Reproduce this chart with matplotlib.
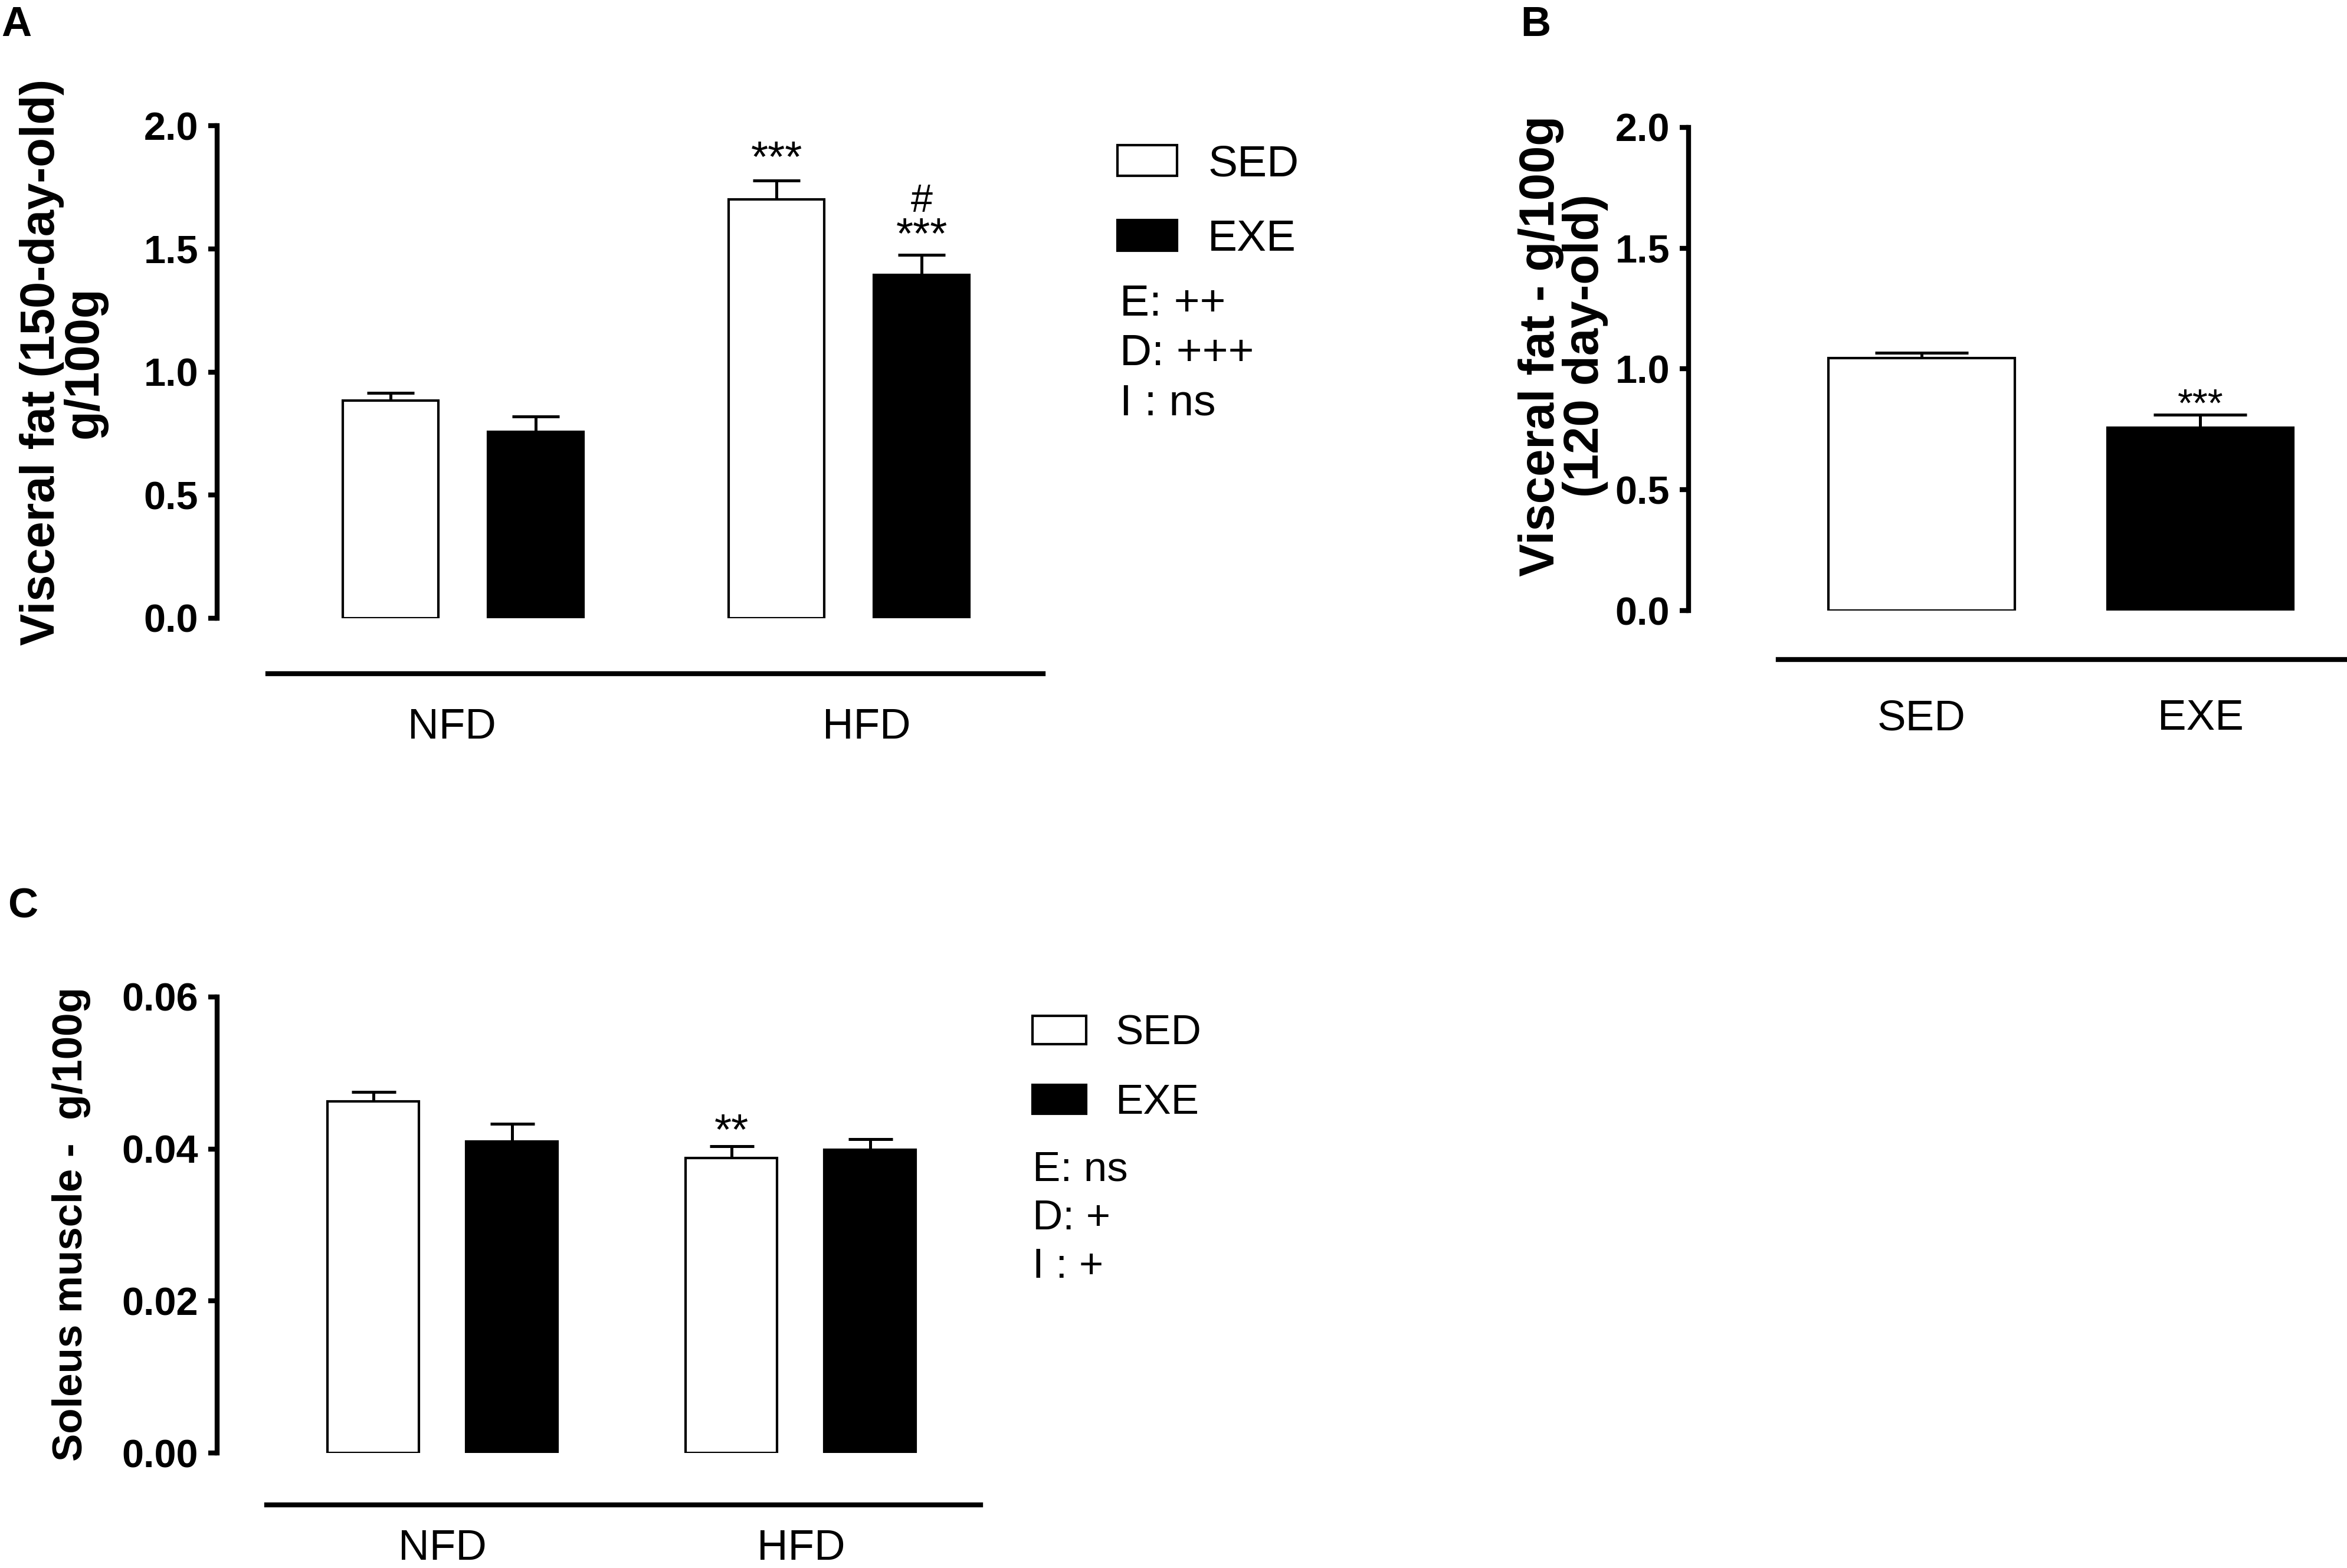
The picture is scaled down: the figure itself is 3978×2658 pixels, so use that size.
import numpy as np
import matplotlib
matplotlib.use("Agg")
import matplotlib.pyplot as plt
from matplotlib.patches import Patch
from matplotlib.ticker import FormatStrFormatter

plt.rcParams['font.family'] = ['Liberation Sans', 'DejaVu Sans']

# panel A: visceral fat at 150 days
diet_groups = ["NFD", "HFD"]
a_sed = [0.885, 1.70]
a_sed_err = [0.03, 0.078]
a_exe = [0.758, 1.394]
a_exe_err = [0.062, 0.082]

# panel B: visceral fat at 120 days
b_groups = ["SED", "EXE"]
b_vals = [1.044, 0.758]
b_err = [0.022, 0.053]

# panel C: soleus muscle
c_sed = [0.0463, 0.0388]
c_sed_err = [0.0012, 0.0016]
c_exe = [0.0410, 0.0399]
c_exe_err = [0.0023, 0.0014]

W, H, DPI = 3978, 2658, 300
fig = plt.figure(figsize=(W / DPI, H / DPI), dpi=DPI)


def px_axes(left, top, right, bottom):
    return fig.add_axes([left / W, 1 - bottom / H, (right - left) / W, (bottom - top) / H])


def style_axis(ax, ymax, yticks, fmt, xlim, line_from, outward, pad):
    ax.set_ylim(0, ymax)
    ax.set_xlim(*xlim)
    ax.set_yticks(yticks)
    ax.yaxis.set_major_formatter(FormatStrFormatter(fmt))
    for s in ["top", "right"]:
        ax.spines[s].set_visible(False)
    ax.spines["left"].set_bounds(0, ymax)
    ax.spines["left"].set_linewidth(2.0)
    ax.spines["bottom"].set_position(("outward", outward))
    ax.spines["bottom"].set_bounds(line_from, xlim[1])
    ax.spines["bottom"].set_linewidth(2.0)
    ax.tick_params(axis="y", length=3.6, width=2.0, pad=4, labelsize=16)
    ax.tick_params(axis="x", length=0, pad=pad, labelsize=17.5)
    for lab in ax.get_yticklabels():
        lab.set_fontweight("bold")
    ax.patch.set_visible(False)


def grouped(ax, sed, sed_err, exe, exe_err, off, width, capsize):
    x = np.arange(len(sed))
    ax.bar(x - off, sed, width, color="white", edgecolor="black", linewidth=1.0, zorder=2)
    ax.bar(x + off, exe, width, color="black", edgecolor="black", linewidth=1.0, zorder=2)
    ax.errorbar(x - off, sed, yerr=[np.zeros(len(sed)), sed_err], fmt="none",
                ecolor="black", elinewidth=1.2, capsize=capsize, capthick=1.2, zorder=1)
    ax.errorbar(x + off, exe, yerr=[np.zeros(len(exe)), exe_err], fmt="none",
                ecolor="black", elinewidth=1.2, capsize=capsize, capthick=1.2, zorder=1)
    return x


def star(ax, x, y, s, dy=0, size=18):
    ax.annotate(s, (x, y), xytext=(0, dy), textcoords="offset points",
                ha="center", va="bottom", fontsize=size)


def sed_exe_legend(ax, x, y, size, hl, ls):
    ax.legend(handles=[Patch(facecolor="white", edgecolor="black", linewidth=1.0),
                       Patch(facecolor="black", edgecolor="black", linewidth=1.0)],
              labels=["SED", "EXE"], loc="upper left", bbox_to_anchor=(x, y),
              bbox_transform=fig.transFigure, frameon=False, fontsize=size,
              handlelength=hl, handleheight=0.68, handletextpad=0.7,
              labelspacing=ls, borderpad=0, borderaxespad=0)


# ---- A ----
axA = px_axes(368, 213, 1768, 1048)
xa = grouped(axA, a_sed, a_sed_err, a_exe, a_exe_err, 0.188, 0.248, 9.7)
axA.set_xticks(xa + np.array([-0.03, 0.045]))
axA.set_xticklabels(diet_groups)
style_axis(axA, 2.0, [0, 0.5, 1.0, 1.5, 2.0], "%.1f", (-0.638, 1.503), -0.506, 22.5, 14)
axA.set_ylabel("Visceral fat (150-day-old)\ng/100g", fontsize=19.5, fontweight="bold", linespacing=0.95)
axA.yaxis.set_label_coords(-0.133, 0.52)
star(axA, xa[1] - 0.188, a_sed[1] + a_sed_err[1], "***", dy=0)
star(axA, xa[1] + 0.188, a_exe[1] + a_exe_err[1], "***", dy=-1)
star(axA, xa[1] + 0.188, a_exe[1] + a_exe_err[1], "#", dy=14, size=16)

sed_exe_legend(axA, 0.476, 0.908, 18, 1.35, 0.77)
fig.text(0.477, 0.819, "E: ++\nD: +++\nI : ns", fontsize=18, va="top", ha="left", linespacing=1.28)

# ---- B ----
axB = px_axes(2862, 216, 3978, 1035)
xb = np.arange(len(b_vals))
axB.bar(xb[0], b_vals[0], 0.668, color="white", edgecolor="black", linewidth=1.0, zorder=2)
axB.bar(xb[1], b_vals[1], 0.668, color="black", edgecolor="black", linewidth=1.0, zorder=2)
axB.errorbar(xb, b_vals, yerr=[np.zeros(2), b_err], fmt="none", ecolor="black",
             elinewidth=1.2, capsize=19, capthick=1.2, zorder=1)
axB.set_xticks(xb)
axB.set_xticklabels(b_groups)
style_axis(axB, 2.0, [0, 0.5, 1.0, 1.5, 2.0], "%.1f", (-0.836, 1.526), -0.515, 20, 16)
axB.set_ylabel("Visceral fat - g/100g\n(120 day-old)", fontsize=20, fontweight="bold", linespacing=0.95)
axB.yaxis.set_label_coords(-0.122, 0.548)
star(axB, xb[1], b_vals[1] + b_err[1], "***", dy=-4, size=16)

# ---- C ----
axC = px_axes(368, 1690, 1662, 2463)
xc = grouped(axC, c_sed, c_sed_err, c_exe, c_exe_err, 0.1936, 0.255, 9)
axC.set_xticks(xc)
axC.set_xticklabels(diet_groups)
style_axis(axC, 0.06, [0, 0.02, 0.04, 0.06], "%.2f", (-0.630, 1.502), -0.492, 21, 10)
axC.set_ylabel("Soleus muscle -  g/100g", fontsize=17, fontweight="bold")
axC.yaxis.set_label_coords(-0.165, 0.502)
star(axC, xc[1] - 0.1936, c_sed[1] + c_sed_err[1], "**", dy=-3)

sed_exe_legend(axC, 0.44, 0.353, 17, 1.28, 0.73)
fig.text(0.440, 0.266, "E: ns\nD: +\nI : +", fontsize=17, va="top", ha="left", linespacing=1.31)

# panel letters
fig.text(2 / W, 1 - 10 / H, "A", fontsize=17, fontweight="bold", va="top")
fig.text(2577 / W, 1 - 10 / H, "B", fontsize=17, fontweight="bold", va="top")
fig.text(13 / W, 1 - 1505 / H, "C", fontsize=17, fontweight="bold", va="top")

fig.savefig("out.png", dpi=DPI, facecolor="white")
